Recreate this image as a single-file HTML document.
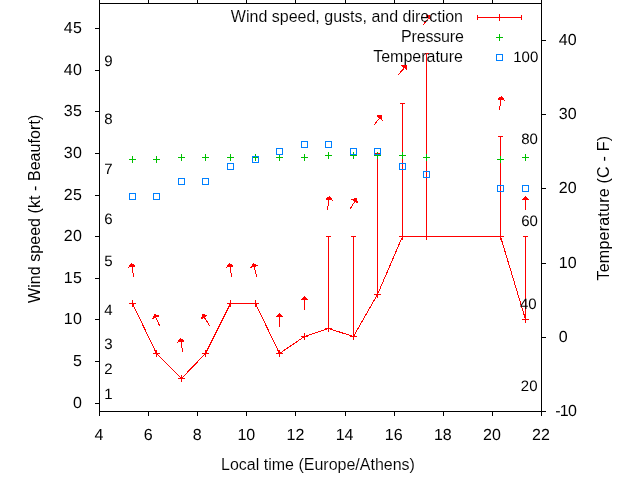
<!DOCTYPE html>
<html lang="en"><head><meta charset="utf-8"><title>Wind speed, gusts, and direction</title>
<style>html,body{margin:0;padding:0;background:#fff;overflow:hidden}svg{display:block}text{font-family:"Liberation Sans",Arial,Helvetica,sans-serif;font-size:16px;fill:#000;stroke:#fff;stroke-width:0.1px}.n{text-rendering:geometricPrecision;stroke:none}.r{stroke:none}.l{shape-rendering:crispEdges;fill:none;stroke-width:1}</style></head><body>
<svg width="640" height="480" viewBox="0 0 640 480">
<rect width="640" height="480" fill="#fff"/>
<g class="l" stroke="#ff0000">
<polyline points="132.5,303.5 156.5,353.5 181.5,378.5 205.5,353.5 230.5,303.5 255.5,303.5 279.5,353.5 304.5,336.5 328.5,328.5 353.5,336.5 377.5,294.5 402.5,236.5 426.5,236.5 500.5,236.5 525.5,319.5"/>
<path d="M130.0,303.5H135.0M129.0,303.5H136.0M132.5,300.0V307.0M154.0,353.5H159.0M153.0,353.5H160.0M156.5,350.0V357.0M179.0,378.5H184.0M178.0,378.5H185.0M181.5,375.0V382.0M203.0,353.5H208.0M202.0,353.5H209.0M205.5,350.0V357.0M228.0,303.5H233.0M227.0,303.5H234.0M230.5,300.0V307.0M253.0,303.5H258.0M252.0,303.5H259.0M255.5,300.0V307.0M277.0,353.5H282.0M276.0,353.5H283.0M279.5,350.0V357.0M302.0,336.5H307.0M301.0,336.5H308.0M304.5,333.0V340.0M328.5,236.5V328.5M326.0,236.5H331.0M325.0,328.5H332.0M328.5,325.0V332.0M353.5,236.5V336.5M351.0,236.5H356.0M350.0,336.5H357.0M353.5,333.0V340.0M377.5,153.5V294.5M375.0,153.5H380.0M374.0,294.5H381.0M377.5,291.0V298.0M402.5,103.5V236.5M400.0,103.5H405.0M399.0,236.5H406.0M402.5,233.0V240.0M426.5,53.5V236.5M424.0,53.5H429.0M423.0,236.5H430.0M426.5,233.0V240.0M500.5,136.5V236.5M498.0,136.5H503.0M497.0,236.5H504.0M500.5,233.0V240.0M525.5,236.5V319.5M523.0,236.5H528.0M522.0,319.5H529.0M525.5,316.0V323.0"/>
</g>
<g stroke="#ff0000" fill="#ff0000" stroke-width="1" shape-rendering="crispEdges">
<line stroke-linecap="square" x1="133.50" y1="276.50" x2="131.50" y2="263.50"/>
<polygon points="131.50,263.50 128.96,266.97 134.97,266.04"/>
<line stroke-linecap="square" x1="159.50" y1="325.50" x2="154.50" y2="314.50"/>
<polygon points="154.50,314.50 152.99,318.53 158.53,316.01"/>
<line stroke-linecap="square" x1="182.50" y1="351.50" x2="180.50" y2="338.50"/>
<polygon points="180.50,338.50 177.96,341.97 183.97,341.04"/>
<line stroke-linecap="square" x1="209.50" y1="325.50" x2="202.50" y2="314.50"/>
<polygon points="202.50,314.50 201.57,318.70 206.70,315.43"/>
<line stroke-linecap="square" x1="231.50" y1="276.50" x2="229.50" y2="263.50"/>
<polygon points="229.50,263.50 226.96,266.97 232.97,266.04"/>
<line stroke-linecap="square" x1="256.50" y1="276.50" x2="253.50" y2="263.50"/>
<polygon points="253.50,263.50 251.22,267.15 257.15,265.78"/>
<line stroke-linecap="square" x1="279.50" y1="326.50" x2="279.50" y2="313.50"/>
<polygon points="279.50,313.50 276.46,316.54 282.54,316.54"/>
<line stroke-linecap="square" x1="304.50" y1="309.50" x2="304.50" y2="296.50"/>
<polygon points="304.50,296.50 301.46,299.54 307.54,299.54"/>
<line stroke-linecap="square" x1="327.50" y1="209.50" x2="329.50" y2="196.50"/>
<polygon points="329.50,196.50 326.03,199.04 332.04,199.97"/>
<line stroke-linecap="square" x1="350.50" y1="208.50" x2="356.50" y2="198.50"/>
<polygon points="356.50,198.50 352.33,199.54 357.54,202.67"/>
<line stroke-linecap="square" x1="374.50" y1="124.50" x2="381.50" y2="115.50"/>
<polygon points="381.50,115.50 377.23,116.03 382.03,119.77"/>
<line stroke-linecap="square" x1="398.50" y1="74.50" x2="406.50" y2="65.50"/>
<polygon points="406.50,65.50 402.21,65.75 406.75,69.79"/>
<line stroke-linecap="square" x1="423.50" y1="24.50" x2="430.50" y2="15.50"/>
<polygon points="430.50,15.50 426.23,16.03 431.03,19.77"/>
<line stroke-linecap="square" x1="499.50" y1="109.50" x2="501.50" y2="96.50"/>
<polygon points="501.50,96.50 498.03,99.04 504.04,99.97"/>
<line stroke-linecap="square" x1="525.50" y1="209.50" x2="525.50" y2="196.50"/>
<polygon points="525.50,196.50 522.46,199.54 528.54,199.54"/>
</g>
<g class="l" stroke="#00c000">
<path d="M129.0,159.5H136.0M132.5,156.0V163.0M153.0,159.5H160.0M156.5,156.0V163.0M178.0,157.5H185.0M181.5,154.0V161.0M202.0,157.5H209.0M205.5,154.0V161.0M227.0,157.5H234.0M230.5,154.0V161.0M252.0,157.5H259.0M255.5,154.0V161.0M276.0,157.5H283.0M279.5,154.0V161.0M301.0,157.5H308.0M304.5,154.0V161.0M325.0,155.5H332.0M328.5,152.0V159.0M350.0,155.5H357.0M353.5,152.0V159.0M374.0,155.5H381.0M377.5,152.0V159.0M399.0,155.5H406.0M402.5,152.0V159.0M423.0,157.5H430.0M426.5,154.0V161.0M497.0,159.5H504.0M500.5,156.0V163.0M522.0,157.5H529.0M525.5,154.0V161.0M496.0,37.5H503.0M499.5,34.0V41.0"/></g>
<g class="l" stroke="#0080ff">
<rect x="129.5" y="193.5" width="6" height="6"/>
<rect x="153.5" y="193.5" width="6" height="6"/>
<rect x="178.5" y="178.5" width="6" height="6"/>
<rect x="202.5" y="178.5" width="6" height="6"/>
<rect x="227.5" y="163.5" width="6" height="6"/>
<rect x="252.5" y="156.5" width="6" height="6"/>
<rect x="276.5" y="148.5" width="6" height="6"/>
<rect x="301.5" y="141.5" width="6" height="6"/>
<rect x="325.5" y="141.5" width="6" height="6"/>
<rect x="350.5" y="148.5" width="6" height="6"/>
<rect x="374.5" y="148.5" width="6" height="6"/>
<rect x="399.5" y="163.5" width="6" height="6"/>
<rect x="423.5" y="171.5" width="6" height="6"/>
<rect x="497.5" y="185.5" width="6" height="6"/>
<rect x="522.5" y="185.5" width="6" height="6"/>
<rect x="496.5" y="54.5" width="6" height="6"/>
</g>
<path class="l" stroke="#ff0000" d="M477,17.5H522M477.5,15V20M521.5,15V20M499.5,14V21"/>
<path class="l" stroke="#000" d="M99.5,3V412M99,3.5H542M541.5,3V412M99,411.5H542M99.5,0V3M99.5,411V416M148.5,0V3M148.5,411V416M197.5,0V3M197.5,411V416M246.5,0V3M246.5,411V416M295.5,0V3M295.5,411V416M345.5,0V3M345.5,411V416M394.5,0V3M394.5,411V416M443.5,0V3M443.5,411V416M492.5,0V3M492.5,411V416M541.5,0V3M541.5,411V416M95,403.5H99M95,361.5H99M95,319.5H99M95,278.5H99M95,236.5H99M95,195.5H99M95,153.5H99M95,111.5H99M95,70.5H99M95,28.5H99M542,411.5H546M542,337.5H546M542,263.5H546M542,188.5H546M542,114.5H546M542,40.5H546"/>
<text class="n" x="82.5" y="408" text-anchor="end" style="letter-spacing:0.5px">0</text>
<text class="n" x="82.5" y="366" text-anchor="end" style="letter-spacing:0.5px">5</text>
<text class="n" x="82.5" y="324" text-anchor="end" style="letter-spacing:0.5px">10</text>
<text class="n" x="82.5" y="283" text-anchor="end" style="letter-spacing:0.5px">15</text>
<text class="n" x="82.5" y="241" text-anchor="end" style="letter-spacing:0.5px">20</text>
<text class="n" x="82.5" y="200" text-anchor="end" style="letter-spacing:0.5px">25</text>
<text class="n" x="82.5" y="158" text-anchor="end" style="letter-spacing:0.5px">30</text>
<text class="n" x="82.5" y="116" text-anchor="end" style="letter-spacing:0.5px">35</text>
<text class="n" x="82.5" y="75" text-anchor="end" style="letter-spacing:0.5px">40</text>
<text class="n" x="82.5" y="33" text-anchor="end" style="letter-spacing:0.5px">45</text>
<text class="n" x="104.2" y="399" style="font-size:15px">1</text>
<text class="n" x="104.2" y="374" style="font-size:15px">2</text>
<text class="n" x="104.2" y="349" style="font-size:15px">3</text>
<text class="n" x="104.2" y="315" style="font-size:15px">4</text>
<text class="n" x="104.2" y="266" style="font-size:15px">5</text>
<text class="n" x="104.2" y="224" style="font-size:15px">6</text>
<text class="n" x="104.2" y="174" style="font-size:15px">7</text>
<text class="n" x="104.2" y="124" style="font-size:15px">8</text>
<text class="n" x="104.2" y="66" style="font-size:15px">9</text>
<text class="n" x="99.0" y="440" text-anchor="middle">4</text>
<text class="n" x="148.1" y="440" text-anchor="middle">6</text>
<text class="n" x="197.2" y="440" text-anchor="middle">8</text>
<text class="n" x="246.3" y="440" text-anchor="middle">10</text>
<text class="n" x="295.4" y="440" text-anchor="middle">12</text>
<text class="n" x="344.6" y="440" text-anchor="middle">14</text>
<text class="n" x="393.7" y="440" text-anchor="middle">16</text>
<text class="n" x="442.8" y="440" text-anchor="middle">18</text>
<text class="n" x="491.9" y="440" text-anchor="middle">20</text>
<text class="n" x="541.0" y="440" text-anchor="middle">22</text>
<text class="n" x="555.2" y="416" style="letter-spacing:-0.7px">-10</text>
<text class="n" x="558.8" y="342">0</text>
<text class="n" x="558.8" y="268">10</text>
<text class="n" x="558.8" y="193">20</text>
<text class="n" x="558.8" y="119">30</text>
<text class="n" x="558.8" y="45">40</text>
<text class="n" x="537.5" y="391" text-anchor="end" style="font-size:15px">20</text>
<text class="n" x="536.6" y="309" text-anchor="end" style="font-size:15px">40</text>
<text class="n" x="537.9" y="226" text-anchor="end" style="font-size:15px">60</text>
<text class="n" x="537.9" y="144" text-anchor="end" style="font-size:15px">80</text>
<text class="n" x="538.3" y="62" text-anchor="end" style="font-size:15px">100</text>
<text x="318" y="469.7" text-anchor="middle">Local time (Europe/Athens)</text>
<text class="r" transform="translate(39.5,208.9) rotate(-90)" text-anchor="middle" textLength="188.3" lengthAdjust="spacing">Wind speed (kt - Beaufort)</text>
<text class="r" transform="translate(609.2,208.2) rotate(-90)" text-anchor="middle" textLength="144.6" lengthAdjust="spacing">Temperature (C - F)</text>
<text x="463" y="21.7" text-anchor="end">Wind speed, gusts, and direction</text>
<text x="463.9" y="41.7" text-anchor="end" textLength="62.9" lengthAdjust="spacing">Pressure</text>
<text x="463" y="61.7" text-anchor="end">Temperature</text>
</svg></body></html>
